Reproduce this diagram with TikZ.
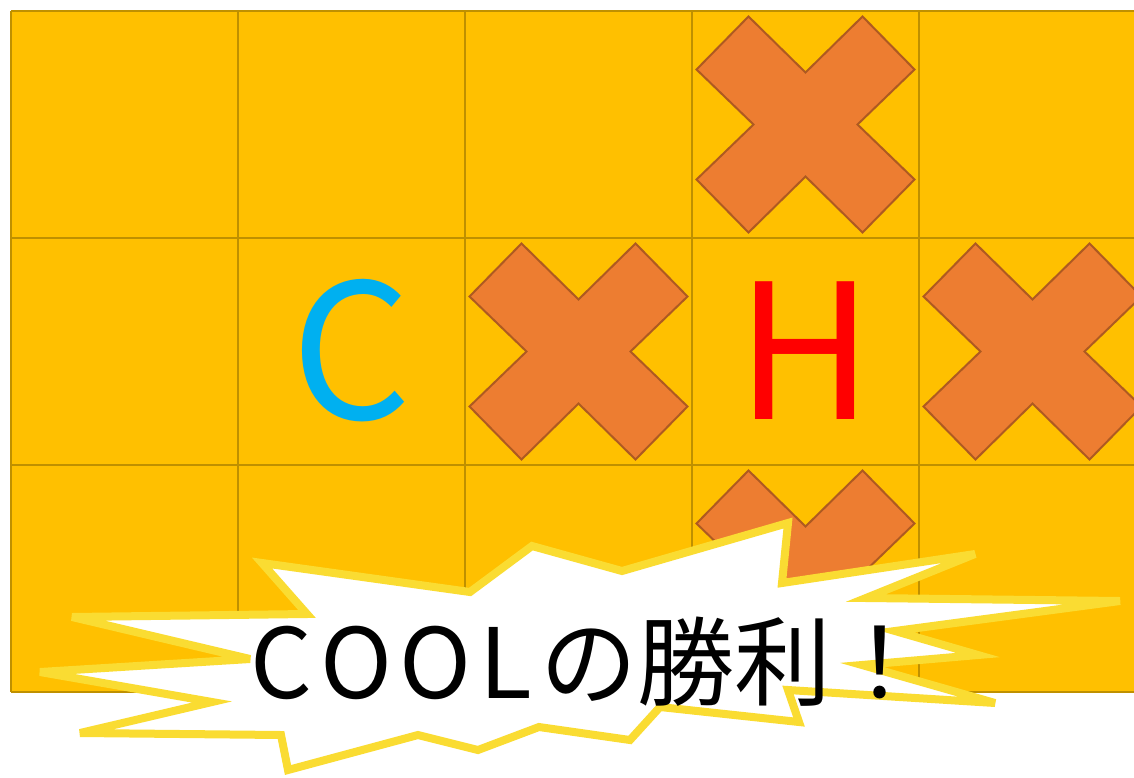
\documentclass[tikz,border=0pt]{standalone}
\usepackage{fontspec}
\setmainfont{Noto Sans CJK JP}
\definecolor{gridfill}{RGB}{255,192,0}
\definecolor{gridline}{RGB}{191,144,0}
\definecolor{xfill}{RGB}{237,125,49}
\definecolor{xline}{RGB}{174,90,33}
\definecolor{burstline}{RGB}{250,220,50}
\definecolor{ccol}{RGB}{0,176,240}
\tikzset{
  gridstroke/.style={draw=gridline, line width=2.4pt},
  xstyle/.style={fill=xfill, draw=xline, line width=2pt, line join=miter},
  xmark/.pic={\path[xstyle] (0,-52) -- (57,-108) -- (109,-55) -- (52,0) -- (109,55) -- (57,108) -- (0,52) -- (-57,108) -- (-109,55) -- (-52,0) -- (-109,-55) -- (-57,-108) -- cycle;},
  burst/.style={fill=white, draw=burstline, line width=8pt, line join=miter, miter limit=6},
  letter/.style={inner sep=0pt, font=\fontsize{188}{188}\selectfont},
  wintext/.style={inner sep=0pt, anchor=base west, font=\fontsize{97}{97}\selectfont}
}
\begin{document}
\begin{tikzpicture}[x=1pt,y=-1pt]
\useasboundingbox (0,0) rectangle (1134,778);
\clip (0,0) rectangle (1134,778);
\fill[gridfill] (11,11) rectangle (1146,692);
\foreach \i in {0,...,5} \path[gridstroke] ({11+227*\i},11) -- ({11+227*\i},692);
\foreach \j in {0,...,3} \path[gridstroke] (11,{11+227*\j}) -- (1146,{11+227*\j});
\pic at (805.5,124.5) {xmark};
\pic at (578.5,351.5) {xmark};
\pic at (1032.5,351.5) {xmark};
\pic at (805.5,578.5) {xmark};
\node[letter, text=ccol] (c) at (351,351) {C};
\node[letter, text=red] (h) at (805,351) {H};
\path[burst] (262,563) -- (470,592) -- (532,546) -- (622,571) -- (788,523) -- (782,583)
  -- (975,554) -- (866,598) -- (1120,601) -- (895,631) -- (978,655) -- (862,665)
  -- (995,703) -- (788,690) -- (799,722) -- (660,707) -- (630,740) -- (539,727)
  -- (478,750) -- (418,735) -- (288,770) -- (281,735) -- (80,733) -- (212,702)
  -- (40,672) -- (250,659) -- (72,617) -- (307,614) -- cycle;
\node[wintext] (win) at (250,698) {C\kern8pt O\kern8pt O\kern8pt L\kern8pt の勝利！};
\end{tikzpicture}
\end{document}
